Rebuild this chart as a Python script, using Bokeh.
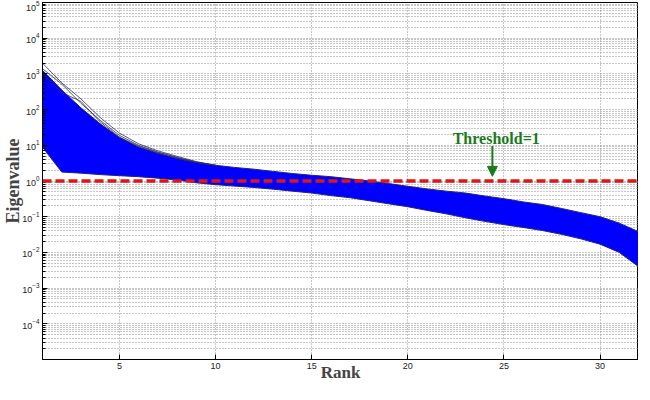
from bokeh.plotting import figure
from bokeh.models import Span, Arrow, NormalHead, Label, FixedTicker
from bokeh.embed import file_html
from bokeh.resources import INLINE

# ---- data ----
rank = list(range(1, 33))
band_upper = [1260, 355, 112, 40, 16.6, 8.9, 6.0, 4.3, 3.3, 2.75, 2.4, 2.14,
              1.86, 1.62, 1.45, 1.32, 1.15, 1.0, 0.85, 0.71, 0.60, 0.52, 0.46,
              0.38, 0.32, 0.26, 0.22, 0.17, 0.13, 0.10, 0.066, 0.038]
band_lower = [8.9, 1.78, 1.66, 1.51, 1.41, 1.32, 1.2, 1.07, 0.89, 0.79, 0.72,
              0.66, 0.59, 0.52, 0.46, 0.39, 0.34, 0.28, 0.23, 0.19, 0.15, 0.12,
              0.093, 0.074, 0.060, 0.050, 0.041, 0.032, 0.024, 0.017, 0.010, 0.004]
outlier_rank = list(range(1, 11))
outlier_a = [2000, 560, 200, 60, 22, 11, 7.0, 4.9, 3.5, 2.75]
outlier_b = [1400, 520, 150, 50, 19, 10, 6.5, 4.6, 3.4, 2.75]
outlier_c = [1000, 300, 170, 45, 17, 9.5, 6.3, 4.5, 3.35, 2.75]
threshold = 1.0
threshold_text = "Threshold=1"
arrow_rank = 24.4
arrow_from = 9.5
label_rank = 24.6
label_value = 16.0
x_ticks = [5, 10, 15, 20, 25, 30]
y_decades = list(range(-4, 6))
x_title = "Rank"
y_title = "Eigenvalue"

GREEN = "#1b7a1b"
GRID = "#8c8c8c"

p = figure(width=638, height=384, x_range=(1, 32), y_range=(1e-5, 1e5),
           y_axis_type="log", output_backend="svg", toolbar_location=None,
           min_border_left=0, min_border_right=0, min_border_top=2,
           min_border_bottom=0, background_fill_color="white",
           border_fill_color="white")
p.outline_line_color = "black"
p.outline_line_width = 1

p.xaxis.ticker = FixedTicker(ticks=x_ticks)
p.yaxis.ticker = FixedTicker(
    ticks=[10.0 ** e for e in y_decades],
    minor_ticks=[k * 10.0 ** e for e in range(-5, 5) for k in range(2, 10)])

for ax in (p.xaxis[0], p.yaxis[0]):
    ax.major_tick_in = 5
    ax.major_tick_out = 0
    ax.minor_tick_out = 0
    ax.axis_line_color = "black"
    ax.major_tick_line_color = "black"
    ax.minor_tick_line_color = "black"
    ax.major_label_text_font = "Liberation Sans"
    ax.major_label_text_font_size = "9px"
    ax.major_label_text_color = "#222222"
    ax.major_label_standoff = 3
    ax.axis_label_text_font = "Liberation Serif"
    ax.axis_label_text_font_style = "bold"
    ax.axis_label_text_font_size = "18px"
p.xaxis.minor_tick_in = 0
p.yaxis.minor_tick_in = 3

p.yaxis.axis_label = y_title
p.yaxis.axis_label_standoff = -4
p.xaxis.axis_label = x_title
p.xaxis.axis_label_text_font_size = "17px"
p.xaxis.axis_label_standoff = -9

# grid
p.xgrid.grid_line_color = GRID
p.xgrid.grid_line_dash = "1 2"
p.ygrid.grid_line_color = GRID
p.ygrid.grid_line_dash = "1 2"
p.ygrid.minor_grid_line_color = GRID
p.ygrid.minor_grid_line_dash = "1 2"

# band of eigenvalue curves
p.varea(x=rank, y1=band_lower, y2=band_upper, fill_color="#0000ff")
p.line(rank, band_upper, line_color="#22227a", line_width=1)
p.line(rank, band_lower, line_color="#22227a", line_width=1)
for ser in (outlier_a, outlier_b, outlier_c):
    p.line(outlier_rank, ser, line_color="#2e2e5e", line_width=0.8)

# threshold
p.add_layout(Span(location=threshold, dimension="width", line_color="#e01515",
                  line_width=3.5, line_dash="9 4"))
p.add_layout(Arrow(end=NormalHead(size=10, fill_color=GREEN, line_color=GREEN),
                   x_start=arrow_rank, y_start=arrow_from,
                   x_end=arrow_rank, y_end=threshold * 1.35,
                   line_color=GREEN, line_width=2))
p.add_layout(Label(x=label_rank, y=label_value, text=threshold_text,
                   text_font="Liberation Serif", text_font_style="bold",
                   text_font_size="16px", text_color=GREEN,
                   text_align="center", text_baseline="middle"))

open("out.html", "w").write(file_html(p, INLINE))
